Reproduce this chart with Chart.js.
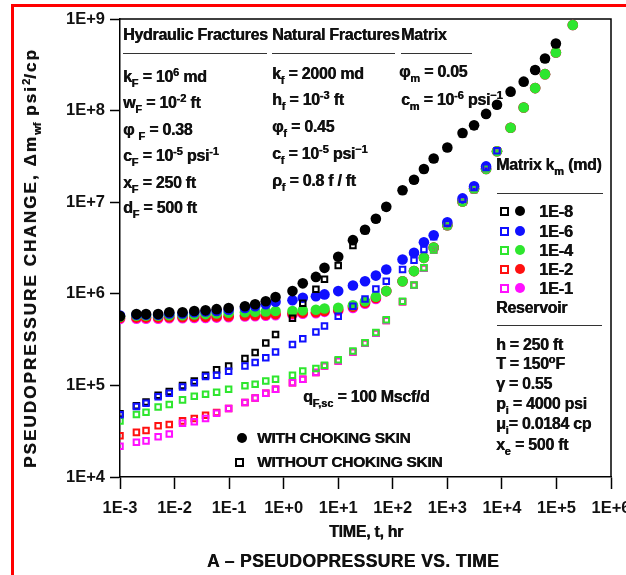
<!DOCTYPE html>
<html>
<head>
<meta charset="utf-8">
<script src="https://cdn.jsdelivr.net/npm/chart.js@4.4.1/dist/chart.umd.min.js"></script>
<style>
  html, body { margin: 0; padding: 0; background: #fff; }
  #wrap { position: relative; width: 626px; height: 575px; overflow: hidden;
          font-family: "Liberation Sans", Arial, sans-serif; font-weight: bold; color: #111; }
  #redframe { position: absolute; left: 11px; top: 4px; width: 700px; height: 700px;
              border-left: 3px solid #f00; border-top: 3px solid #f00; }
  canvas { position: absolute; left: 0; top: 0; }
  .t { position: absolute; white-space: nowrap; font-size: 16px; line-height: 16px; letter-spacing: -0.3px;
       text-shadow: 0.4px 0 0 #111; }
  .sb { font-size: 11px; position: relative; top: 5px; letter-spacing: 0; }
  .sp { font-size: 11px; position: relative; top: -6px; letter-spacing: 0; }
  .rule { position: absolute; height: 0; border-top: 1.5px solid #333; }
  .dot { position: absolute; width: 10px; height: 10px; border-radius: 50%; }
  .box { position: absolute; width: 5px; height: 5px; border: 2px solid; background: transparent; }
  #ytitle { position: absolute; left: 31px; top: 258px; transform: translate(-50%, -50%) rotate(-90deg);
            white-space: nowrap; font-size: 17px; letter-spacing: 2.1px; text-shadow: 0.4px 0 0 #111; }
</style>
</head>
<body>
<div id="wrap">
  <div id="redframe"></div>
  <canvas id="c" width="626" height="575"></canvas>
  <div id="ytitle">PSEUDOPRESSURE CHANGE, &Delta;m<span class="sb">wf</span> psi<span class="sp">2</span>/cp</div>
</div>
<script>
// Elapsed time, hr
const timeHr = [0.001, 0.002, 0.003, 0.005, 0.008, 0.014, 0.023, 0.037, 0.059, 0.098,
  0.195, 0.30, 0.47, 0.71, 1.45, 2.24, 3.9, 5.6, 10, 18.6,
  31, 49, 76, 151, 245, 372, 562, 1000, 1900, 3090,
  5130, 8130, 14450, 25100, 40700, 61700, 97700, 199500];

// Pseudopressure change, psi^2/cp -- with choking skin (filled circles)
const withSkin_km1e8 = [5.7e5, 6.0e5, 6.0e5, 6.0e5, 6.3e5, 6.3e5, 6.5e5, 6.6e5, 6.8e5, 7.0e5,
  7.3e5, 7.7e5, 8.3e5, 9.2e5, 1.07e6, 1.30e6, 1.53e6, 1.92e6, 2.54e6, 3.85e6,
  5.0e6, 6.6e6, 8.9e6, 1.35e7, 1.76e7, 2.3e7, 3.0e7, 3.96e7, 5.7e7, 6.9e7,
  9.2e7, 1.16e8, 1.61e8, 2.07e8, 2.78e8, 3.7e8, 5.4e8, null];
const withSkin_km1e6 = [5.8e5, 5.9e5, 5.9e5, 5.9e5, 6.1e5, 6.1e5, 6.3e5, 6.4e5, 6.5e5, 6.7e5,
  7.0e5, 7.3e5, 7.7e5, 8.2e5, 8.5e5, 9.05e5, 9.4e5, 9.85e5, 1.07e6, 1.23e6,
  1.37e6, 1.58e6, 1.84e6, 2.37e6, 2.8e6, 3.65e6, 4.35e6, 6.05e6, 1.1e7, 1.49e7,
  2.46e7, null, null, null, null, null, null, null];
const withSkin_km1e4 = [5.6e5, 5.75e5, 5.75e5, 5.75e5, 5.85e5, 5.85e5, 5.95e5, 6.0e5, 6.1e5, 6.2e5,
  6.3e5, 6.35e5, 6.4e5, 6.5e5, 6.5e5, 6.6e5, 6.7e5, 6.9e5, 7.05e5, 7.5e5,
  8.3e5, 9.3e5, 1.07e6, 1.37e6, 1.77e6, 2.47e6, 3.2e6, 5.6e6, 1.02e7, 1.4e7,
  2.3e7, 3.6e7, 6.5e7, 1.08e8, 1.76e8, 2.5e8, 4.3e8, 8.6e8];
const withSkin_km1e2 = [5.45e5, 5.5e5, 5.5e5, 5.5e5, 5.55e5, 5.55e5, 5.6e5, 5.6e5, 5.65e5, 5.7e5,
  5.8e5, 5.85e5, 5.9e5, 6.0e5, 6.1e5, 6.2e5, 6.3e5, 6.5e5, 6.7e5, 7.2e5,
  8.0e5, 9.0e5, 1.07e6, 1.37e6, 1.77e6, 2.47e6, 3.2e6, 5.6e6, 1.02e7, 1.4e7,
  2.3e7, 3.6e7, 6.5e7, 1.08e8, 1.76e8, 2.5e8, 4.3e8, 8.6e8];
const withSkin_km1e1 = [5.3e5, 5.35e5, 5.35e5, 5.35e5, 5.4e5, 5.4e5, 5.45e5, 5.45e5, 5.5e5, 5.55e5,
  5.65e5, 5.7e5, 5.75e5, 5.85e5, 5.95e5, 6.05e5, 6.15e5, 6.35e5, 6.55e5, 7.0e5,
  7.8e5, 8.8e5, 1.07e6, 1.37e6, 1.77e6, 2.47e6, 3.2e6, 5.6e6, 1.02e7, 1.4e7,
  2.3e7, 3.6e7, 6.5e7, 1.08e8, 1.76e8, 2.5e8, 4.3e8, 8.6e8];

// Pseudopressure change, psi^2/cp -- without choking skin (open markers)
const noSkin_km1e8 = [4.9e4, 6.0e4, 6.6e4, 7.8e4, 8.6e4, 1.0e5, 1.12e5, 1.29e5, 1.48e5, 1.63e5,
  1.96e5, 2.28e5, 2.9e5, 3.6e5, 5.4e5, 7.9e5, 1.12e6, 1.44e6, 2.04e6, 3.37e6,
  4.9e6, 6.5e6, 8.8e6, 1.33e7, 1.74e7, 2.27e7, 2.95e7, 3.9e7, 5.6e7, 6.8e7,
  9.1e7, 1.15e8, 1.6e8, 2.05e8, 2.75e8, 3.65e8, 5.3e8, null];
const noSkin_km1e6 = [4.78e4, 5.9e4, 6.4e4, 7.5e4, 8.2e4, 9.6e4, 1.07e5, 1.25e5, 1.29e5, 1.43e5,
  1.63e5, 1.78e5, 2.0e5, 2.32e5, 2.8e5, 3.24e5, 3.83e5, 4.45e5, 5.7e5, 7.3e5,
  8.8e5, 1.13e6, 1.37e6, 1.84e6, 2.33e6, 3.05e6, 4.2e6, 5.9e6, 1.08e7, 1.45e7,
  2.4e7, 3.65e7, null, null, null, null, null, null];
const noSkin_km1e4 = [4.1e4, 4.8e4, 5.1e4, 5.8e4, 6.2e4, 6.95e4, 7.6e4, 8.0e4, 8.4e4, 9.1e4,
  9.9e4, 1.03e5, 1.12e5, 1.17e5, 1.29e5, 1.44e5, 1.53e5, 1.66e5, 1.9e5, 2.38e5,
  2.93e5, 3.77e5, 5.2e5, 8.3e5, 1.25e6, 1.92e6, 3.0e6, 5.5e6, 1.0e7, 1.38e7,
  2.3e7, 3.6e7, null, null, null, null, null, null];
const noSkin_km1e2 = [2.82e4, 3.07e4, 3.22e4, 3.62e4, 3.75e4, 4.1e4, 4.35e4, 4.73e4, 5.07e4, 5.6e4,
  6.5e4, 7.3e4, 8.2e4, 9.1e4, 1.07e5, 1.17e5, 1.38e5, 1.63e5, 1.85e5, 2.32e5,
  2.88e5, 3.7e5, 5.1e5, 8.2e5, 1.24e6, 1.9e6, 3.0e6, 5.5e6, 1.0e7, 1.38e7,
  2.3e7, 3.6e7, null, null, null, null, null, null];
const noSkin_km1e1 = [2.16e4, 2.4e4, 2.48e4, 2.75e4, 2.94e4, 3.87e4, 4.0e4, 4.35e4, 4.97e4, 5.6e4,
  6.5e4, 7.3e4, 8.2e4, 9.1e4, 1.07e5, 1.17e5, 1.38e5, 1.63e5, 1.85e5, 2.32e5,
  2.88e5, 3.7e5, 5.1e5, 8.2e5, 1.24e6, 1.9e6, 3.0e6, 5.5e6, 1.0e7, 1.38e7,
  2.3e7, 3.6e7, null, null, null, null, null, null];

// Axis decades and their labels
const xTickValues = [1e-3, 1e-2, 1e-1, 1e0, 1e1, 1e2, 1e3, 1e4, 1e5, 1e6];
const xTickLabels = ["1E-3", "1E-2", "1E-1", "1E+0", "1E+1", "1E+2", "1E+3", "1E+4", "1E+5", "1E+6"];
const yTickValues = [1e4, 1e5, 1e6, 1e7, 1e8, 1e9];
const yTickLabels = ["1E+4", "1E+5", "1E+6", "1E+7", "1E+8", "1E+9"];

const BLACK = "#000000", BLUE = "#1010ff", GREEN = "#2ee62e", RED = "#ff1010", MAGENTA = "#ff10ff";

function pts(vals) {
  const out = [];
  vals.forEach((v, i) => { if (v !== null) out.push({ x: timeHr[i], y: v }); });
  return out;
}
function filled(label, vals, color, order) {
  return { label, data: pts(vals), order, pointStyle: "circle", pointRadius: 5.3,
           backgroundColor: color, borderColor: color, borderWidth: 0, showLine: false };
}
function open(label, vals, color, order) {
  return { label, data: pts(vals), order, pointStyle: "rect", pointRadius: 3.9,
           backgroundColor: "rgba(255,255,255,0)", borderColor: color, borderWidth: 2, showLine: false };
}

const datasets = [
  open("1E-6 without choking skin", noSkin_km1e6, BLUE, 1),
  open("1E-4 without choking skin", noSkin_km1e4, GREEN, 2),
  open("1E-8 without choking skin", noSkin_km1e8, BLACK, 3),
  open("1E-1 without choking skin", noSkin_km1e1, MAGENTA, 4),
  open("1E-2 without choking skin", noSkin_km1e2, RED, 5),
  filled("1E-8 with choking skin", withSkin_km1e8, BLACK, 6),
  filled("1E-6 with choking skin", withSkin_km1e6, BLUE, 7),
  filled("1E-4 with choking skin", withSkin_km1e4, GREEN, 8),
  filled("1E-2 with choking skin", withSkin_km1e2, RED, 9),
  filled("1E-1 with choking skin", withSkin_km1e1, MAGENTA, 10)
];

// closes the plot box on the top and right sides
const boxFrame = {
  id: "boxFrame",
  beforeDatasetsDraw(chart) {
    const { ctx, chartArea: a } = chart;
    ctx.save();
    ctx.strokeStyle = "#000";
    ctx.lineWidth = 1.5;
    ctx.beginPath();
    ctx.moveTo(a.left, a.top);
    ctx.lineTo(a.right, a.top);
    ctx.lineTo(a.right, a.bottom);
    ctx.stroke();
    ctx.restore();
  }
};

const tickFont = { family: "'Liberation Sans', Arial, sans-serif", weight: "bold", size: 16.5 };

new Chart(document.getElementById("c"), {
  type: "scatter",
  data: { datasets },
  plugins: [boxFrame],
  options: {
    responsive: false,
    animation: false,
    devicePixelRatio: 1,
    layout: { padding: { left: 10, top: 19, right: 15, bottom: 0 } },
    plugins: { legend: { display: false }, tooltip: { enabled: false } },
    scales: {
      x: {
        type: "logarithmic", min: 1e-3, max: 1e6,
        afterBuildTicks: (s) => { s.ticks = xTickValues.map(v => ({ value: v })); },
        afterFit: (s) => { s.height = 98; s.paddingLeft = 0; s.paddingRight = 0; },
        ticks: { callback: (v, i) => xTickLabels[i], font: tickFont, color: "#111",
                 padding: 10, maxRotation: 0, autoSkip: false },
        grid: { drawOnChartArea: false, drawTicks: true, tickLength: 12, tickWidth: 1.5, tickColor: "#000" },
        border: { display: true, color: "#000", width: 1.5 }
      },
      y: {
        type: "logarithmic", min: 1e4, max: 1e9,
        afterBuildTicks: (s) => { s.ticks = yTickValues.map(v => ({ value: v })); },
        afterFit: (s) => { s.width = 110; s.paddingTop = 0; s.paddingBottom = 0; },
        ticks: { callback: (v, i) => yTickLabels[i], font: tickFont, color: "#111", padding: 5, autoSkip: false },
        grid: { drawOnChartArea: false, drawTicks: true, tickLength: 10, tickWidth: 1.5, tickColor: "#000" },
        border: { display: true, color: "#000", width: 1.5 }
      }
    }
  }
});

// text annotations: [left x, vertical centre, html, font size]
const wrap = document.getElementById("wrap");
function addText(x, cy, html, size, extra) {
  const d = document.createElement("div");
  d.className = "t";
  const fs = size || 16;
  d.style.fontSize = fs + "px";
  d.style.lineHeight = fs + "px";
  d.style.left = x + "px";
  d.style.top = (cy - fs * 0.49) + "px";
  if (extra) Object.assign(d.style, extra);
  d.innerHTML = html;
  wrap.appendChild(d);
  return d;
}
function addRule(x1, x2, y) {
  const d = document.createElement("div");
  d.className = "rule";
  d.style.left = x1 + "px"; d.style.width = (x2 - x1) + "px"; d.style.top = y + "px";
  wrap.appendChild(d);
}
function addDot(cx, cy, color) {
  const d = document.createElement("div");
  d.className = "dot";
  d.style.left = (cx - 5) + "px"; d.style.top = (cy - 5) + "px"; d.style.background = color;
  wrap.appendChild(d);
}
function addBox(cx, cy, color) {
  const d = document.createElement("div");
  d.className = "box";
  d.style.left = (cx - 4) + "px"; d.style.top = (cy - 4) + "px"; d.style.borderColor = color;
  wrap.appendChild(d);
}

// property block
addText(123, 35, "Hydraulic Fractures");
addText(272, 35, "Natural Fractures");
addText(401, 35, "Matrix");
addRule(123, 267, 53); addRule(272, 395, 53); addRule(401, 472, 53);

addText(123, 77, 'k<span class="sb">F</span> = 10<span class="sp">6</span> md');
addText(123, 103, 'w<span class="sb">F</span> = 10<span class="sp">-2</span> ft');
addText(123, 130, '&phi; <span class="sb">F</span> = 0.38');
addText(123, 156, 'c<span class="sb">F</span> = 10<span class="sp">-5</span> psi<span class="sp">-1</span>');
addText(123, 183, 'x<span class="sb">F</span> = 250 ft');
addText(123, 208, 'd<span class="sb">F</span> = 500 ft');

addText(272, 74, 'k<span class="sb">f</span> = 2000 md');
addText(272, 100, 'h<span class="sb">f</span> = 10<span class="sp">-3</span> ft');
addText(272, 127, '&phi;<span class="sb">f</span> = 0.45');
addText(272, 154, 'c<span class="sb">f</span> = 10<span class="sp">-5</span> psi<span class="sp">&minus;1</span>');
addText(272, 181, '&rho;<span class="sb">f</span> = 0.8 f / ft');

addText(399, 72, '&phi;<span class="sb">m</span> = 0.05');
addText(401, 100, 'c<span class="sb">m</span> = 10<span class="sp">-6</span> psi<span class="sp">&minus;1</span>');

// matrix permeability legend
addText(496, 165, 'Matrix k<span class="sb">m</span> (md)');
addRule(497, 603, 193);
const legendRows = [[211, BLACK, "1E-8"], [231, BLUE, "1E-6"], [250, GREEN, "1E-4"], [269, RED, "1E-2"], [288, MAGENTA, "1E-1"]];
legendRows.forEach(([y, c, s]) => { addBox(504, y, c); addDot(520, y, c); addText(539, y, s, 16.5); });

// reservoir block
addText(496, 308, "Reservoir");
addRule(497, 602, 325);
addText(496, 345, "h = 250 ft");
addText(496, 364, 'T = 150<span class="sp">o</span>F');
addText(496, 384, "&gamma; = 0.55");
addText(496, 404, 'p<span class="sb">i</span> = 4000 psi');
addText(496, 424, '&mu;<span class="sb">i</span>= 0.0184 cp');
addText(496, 445, 'x<span class="sb">e</span> = 500 ft');

// rate and skin legend
addText(303, 397, 'q<span class="sb">F,sc</span> = 100 Mscf/d');
addDot(242, 438, BLACK);
addText(257, 438, "WITH CHOKING SKIN", 15.5);
addBox(239, 462, BLACK);
addText(257, 462, "WITHOUT CHOKING SKIN", 15.5);

// axis title and caption
const xt = addText(0, 532, "TIME, t, hr", 16);
xt.style.left = "366px"; xt.style.transform = "translateX(-50%)";
const cap = addText(0, 562, "A &ndash; PSEUDOPRESSURE VS. TIME", 17.5, { letterSpacing: "0.4px" });
cap.style.left = "353px"; cap.style.transform = "translateX(-50%)";
</script>
</body>
</html>
